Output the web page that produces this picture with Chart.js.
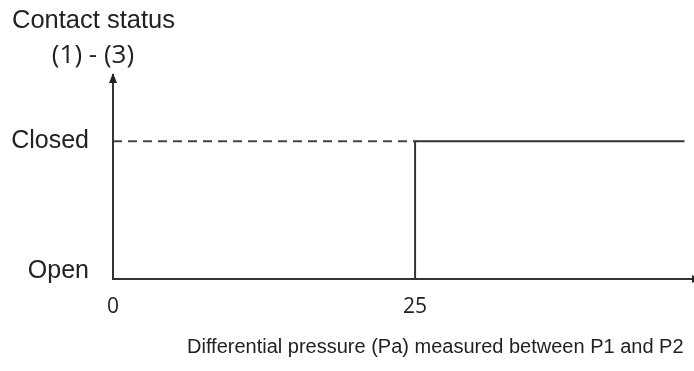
<!DOCTYPE html>
<html>
<head>
<meta charset="utf-8">
<script src="https://cdn.jsdelivr.net/npm/chart.js@4.4.1/dist/chart.umd.min.js"></script>
<style>
  html, body { margin: 0; padding: 0; background: #ffffff; }
  #wrap { width: 694px; height: 371px; position: relative; }
</style>
</head>
<body>
<div id="wrap"><canvas id="c" width="694" height="371"></canvas></div>
<script>
// ---- data ----
const xTickValues = [0, 25];
const xTickLabels = ['0', '25'];
const yTickValues = [0, 1];
const yTickLabels = ['Open', 'Closed'];
const dashedX = [0, 25];
const dashedY = [1, 1];
const solidX = [25, 25, 47.3];
const solidY = [0, 1, 1];
const yAxisTitle = 'Contact status';
const yAxisSubtitle = '(1) - (3)';
const xAxisTitle = 'Differential pressure (Pa) measured between P1 and P2';

const toPoints = (xs, ys) => xs.map((x, i) => ({ x: x, y: ys[i] }));

const textPlugin = {
  id: 'annot',
  afterDraw(chart) {
    const ctx = chart.ctx;
    const xs = chart.scales.x, ys = chart.scales.y;
    const left = xs.getPixelForValue(0);
    const bottom = ys.getPixelForValue(0);
    const top = chart.chartArea.top;
    ctx.save();
    ctx.fillStyle = '#222222';
    // y arrow head
    ctx.beginPath();
    ctx.moveTo(left, top - 2);
    ctx.lineTo(left - 4, top + 8);
    ctx.lineTo(left + 4, top + 8);
    ctx.closePath();
    ctx.fill();
    // x arrow head (mostly off canvas)
    const right = chart.chartArea.right;
    ctx.beginPath();
    ctx.moveTo(right + 8, bottom);
    ctx.lineTo(right - 1, bottom - 4);
    ctx.lineTo(right - 1, bottom + 4);
    ctx.closePath();
    ctx.fill();
    // texts
    ctx.fillStyle = '#222222';
    ctx.textBaseline = 'alphabetic';
    ctx.textAlign = 'left';
    ctx.font = '25.5px "Liberation Sans", Arial, sans-serif';
    ctx.fillText(yAxisTitle, 12, 28);
    ctx.textAlign = 'center';
    ctx.font = '26px "Open Sans", sans-serif';
    ctx.fillText(yAxisSubtitle, 93, 63);
    ctx.textAlign = 'left';
    ctx.font = '20px "Liberation Sans", Arial, sans-serif';
    ctx.fillText(xAxisTitle, 187, 353);
    ctx.restore();
  }
};

new Chart(document.getElementById('c'), {
  type: 'line',
  data: {
    datasets: [
      {
        data: toPoints(dashedX, dashedY),
        borderColor: '#444444',
        borderWidth: 2,
        borderDash: [9, 6],
        pointRadius: 0,
        tension: 0
      },
      {
        data: toPoints(solidX, solidY),
        borderColor: '#333333',
        borderWidth: 2,
        pointRadius: 0,
        tension: 0
      }
    ]
  },
  options: {
    responsive: false,
    animation: false,
    events: [],
    layout: { padding: { left: 0, right: 1, top: 75, bottom: 0 } },
    plugins: { legend: { display: false }, tooltip: { enabled: false }, title: { display: false } },
    scales: {
      x: {
        type: 'linear',
        min: 0,
        max: 48,
        grid: { display: false, drawTicks: false },
        border: { display: true, color: '#333333', width: 2 },
        afterBuildTicks: (s) => { s.ticks = xTickValues.map(v => ({ value: v })); },
        afterFit: (s) => { s.height = 92; },
        ticks: {
          padding: 15,
          color: '#222222',
          font: { family: '"Open Sans", sans-serif', size: 21 },
          maxRotation: 0,
          autoSkip: false,
          callback: (v) => xTickLabels[xTickValues.indexOf(v)]
        }
      },
      y: {
        type: 'linear',
        min: 0,
        max: 1.48,
        grid: { display: false, drawTicks: false },
        border: { display: true, color: '#333333', width: 2 },
        afterBuildTicks: (s) => { s.ticks = yTickValues.map(v => ({ value: v })); },
        afterFit: (s) => { s.width = 113; },
        ticks: {
          padding: 24,
          color: '#222222',
          autoSkip: false,
          font: (c) => ({ family: '"Liberation Sans", Arial, sans-serif', size: 25,
                          lineHeight: (c.tick && c.tick.value === 0) ? '16px' : 1.2 }),
          callback: (v) => {
            const lab = yTickLabels[yTickValues.indexOf(v)];
            return v === 0 ? [lab, ''] : lab;
          }
        }
      }
    }
  },
  plugins: [textPlugin]
});
</script>
</body>
</html>
